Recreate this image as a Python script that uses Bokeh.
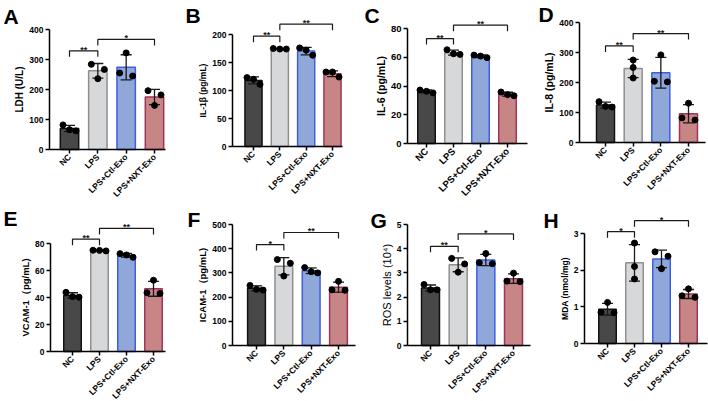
import math
import numpy as np
from bokeh.plotting import figure
from bokeh.layouts import row, column
from bokeh.models import FixedTicker, Range1d
from bokeh.core.properties import value
from bokeh.embed import file_html
from bokeh.resources import INLINE

# ---- data -------------------------------------------------------------
groups = ["NC", "LPS", "LPS+Ctl-Exo", "LPS+NXT-Exo"]

# three replicates per group
ldh = [[82, 62, 66], [284, 267, 236], [322, 245, 255], [196, 182, 147]]
il1b = [[123, 120, 111], [174, 175, 174], [176, 172, 163], [133, 133, 124]]
il6 = [[35.2, 37.2, 36.3], [65.2, 62.0, 62.4], [59.7, 61.5, 60.8], [33.2, 35.8, 34.0]]
il8 = [[136, 118, 120], [275, 250, 215], [292, 202, 204], [131, 75, 82]]
vcam1 = [[43.8, 40.2, 40.6], [74.5, 75.0, 74.9], [72.5, 69.8, 71.5], [52.8, 43.0, 43.5]]
icam1 = [[248, 229, 232], [355, 340, 287], [322, 305, 300], [265, 228, 230]]
ros = [[2.52, 2.30, 2.30], [3.60, 3.37, 3.03], [3.80, 3.42, 3.38], [2.99, 2.66, 2.64]]
mda = [[1.12, 0.84, 0.85], [2.74, 2.10, 1.76], [2.50, 2.38, 2.04], [1.49, 1.26, 1.30]]

# significance marks: (NC vs LPS, LPS vs LPS+NXT-Exo)
sig_ldh = ["**", "*"]
sig_il1b = ["**", "**"]
sig_il6 = ["**", "**"]
sig_il8 = ["**", "**"]
sig_vcam1 = ["**", "**"]
sig_icam1 = ["*", "**"]
sig_ros = ["**", "*"]
sig_mda = ["*", "*"]

ticks_ldh = [0, 100, 200, 300, 400]
ticks_il1b = [0, 50, 100, 150, 200]
ticks_il6 = [0, 20, 40, 60, 80]
ticks_il8 = [0, 100, 200, 300, 400]
ticks_vcam1 = [0, 20, 40, 60, 80]
ticks_icam1 = [0, 100, 200, 300, 400, 500]
ticks_ros = [0, 1, 2, 3, 4, 5]
ticks_mda = [0, 1, 2, 3]

# ---- styling ----------------------------------------------------------
FONT = "Liberation Sans"
FILLS = ["#484848", "#d7d8da", "#8fa7d9", "#c78585"]
EDGES = ["#111111", "#8f8f8f", "#3d5ee2", "#a1345a"]

# panel geometry in page pixels:
# column box, row box, y-axis x, x-axis end, zero line, top-tick line, first/last bar centre,
# panel letter position, bracket heights (data units), label/tick font sizes
panels = [
    dict(letter="A", ylabel="LDH (U/L)", reps=ldh, ticks=ticks_ldh, sig=sig_ldh,
         col=(0, 177), rowb=(0, 200), left=49, right=165, zero=149, toptick=29,
         c0=69, c3=154, lx=3, ly=8, br=(329, 367), lab=("10px", "bold"), tick="8.5px"),
    dict(letter="B", ylabel="IL-1β (pg/mL)", reps=il1b, ticks=ticks_il1b, sig=sig_il1b,
         col=(177, 360), rowb=(0, 200), left=232, right=342, zero=146, toptick=34,
         c0=253, c3=332, lx=185, ly=7, br=(197, 218.5), lab=("8.5px", "bold"), tick="8.5px"),
    dict(letter="C", ylabel="IL-6 (pg/mL)", reps=il6, ticks=ticks_il6, sig=sig_il6,
         col=(360, 535), rowb=(0, 200), left=407, right=527, zero=143, toptick=28,
         c0=426, c3=507, lx=364, ly=7, br=(73, 82.3), lab=("10.5px", "bold"), tick="9.5px"),
    dict(letter="D", ylabel="IL-8 (pg/mL)", reps=il8, ticks=ticks_il8, sig=sig_il8,
         col=(535, 708), rowb=(0, 200), left=579, right=705, zero=142, toptick=22,
         c0=605, c3=688, lx=538, ly=6, br=(322, 363), lab=("10.5px", "bold"), tick="8.5px"),
    dict(letter="E", ylabel="VCAM-1（pg/mL)", reps=vcam1, ticks=ticks_vcam1, sig=sig_vcam1,
         col=(0, 177), rowb=(200, 401), left=50, right=165, zero=351, toptick=243,
         c0=72, c3=153, lx=3, ly=210, br=(83.2, 91.2), lab=("9.5px", "bold"), tick="8.5px"),
    dict(letter="F", ylabel="ICAM-1（pg/mL)", reps=icam1, ticks=ticks_icam1, sig=sig_icam1,
         col=(177, 360), rowb=(200, 401), left=232, right=355, zero=345, toptick=224,
         c0=256, c3=338, lx=187, ly=211, br=(417, 467), lab=("9.5px", "bold"), tick="8.5px"),
    dict(letter="G", ylabel="ROS levels (10⁴)", reps=ros, ticks=ticks_ros, sig=sig_ros,
         col=(360, 535), rowb=(200, 401), left=407, right=530, zero=345, toptick=224,
         c0=430, c3=513, lx=370, ly=212, br=(4.10, 4.61), lab=("11px", "normal"), tick="8.5px"),
    dict(letter="H", ylabel="MDA (nmol/mg)", reps=mda, ticks=ticks_mda, sig=sig_mda,
         col=(535, 708), rowb=(200, 401), left=584, right=707, zero=343, toptick=233,
         c0=607, c3=688, lx=543, ly=212, br=(3.05, 3.35), lab=("8.5px", "bold"), tick="8.5px"),
]


def dot_offsets(vals, ppu, sp, diam=6.0, step=6.5):
    """Spread replicate dots sideways when they would overlap."""
    order = sorted(range(len(vals)), key=lambda i: -vals[i])
    clusters = []
    for i in order:
        if clusters and (vals[clusters[-1][-1]] - vals[i]) * ppu < diam:
            clusters[-1].append(i)
        else:
            clusters.append([i])
    offs = [0.0] * len(vals)
    for c in clusters:
        n = len(c)
        gap = step * (2 if n == 2 else 1)
        for k, i in enumerate(c):
            offs[i] = (k - (n - 1) / 2) * gap / sp
    return offs


def make_panel(cfg):
    cl, cr = cfg["col"]
    rt, rb = cfg["rowb"]
    ppu = (cfg["zero"] - cfg["toptick"]) / cfg["ticks"][-1]   # pixels per y unit
    sp = (cfg["c3"] - cfg["c0"]) / 3.0                          # pixels per x unit

    def xd(px):
        return 1 + (px - cfg["c0"]) / sp

    def yd(py):
        return (cfg["zero"] - py) / ppu

    # the plotting frame covers the whole cell; axes sit at fixed data locations
    p = figure(width=cr - cl, height=rb - rt, output_backend="svg", toolbar_location=None,
               x_range=Range1d(xd(cl), xd(cr)), y_range=Range1d(yd(rb), yd(rt)),
               min_border=0, min_border_left=0, min_border_right=0,
               min_border_top=0, min_border_bottom=0)
    p.outline_line_color = None
    p.xgrid.grid_line_color = None
    p.ygrid.grid_line_color = None
    p.background_fill_color = "white"
    p.border_fill_color = "white"

    reps = cfg["reps"]
    xs = [1, 2, 3, 4]
    means = [float(np.mean(r)) for r in reps]
    sds = [float(np.std(r, ddof=1)) for r in reps]

    p.vbar(x=xs, top=means, width=0.65, bottom=0, fill_color=FILLS, line_color=EDGES,
           line_width=1.5)

    # error bars (mean ± SD)
    cap = 5.5 / sp
    p.segment(x0=xs, y0=[m - s for m, s in zip(means, sds)],
              x1=xs, y1=[m + s for m, s in zip(means, sds)], line_color="#1a1a1a", line_width=1.3)
    for sign in (-1, 1):
        yy = [m + sign * s for m, s in zip(means, sds)]
        p.segment(x0=[x - cap for x in xs], y0=yy, x1=[x + cap for x in xs], y1=yy,
                  line_color="#1a1a1a", line_width=1.3)

    # replicate dots
    dx, dy = [], []
    for x, r in zip(xs, reps):
        offs = dot_offsets(r, ppu, sp)
        dx += [x + o for o in offs]
        dy += list(r)
    p.scatter(dx, dy, size=6, fill_color="black", line_color="black")

    # significance brackets
    drop = 6.0 / ppu
    pairs = [(1, 2), (2, 4)]
    for (a, b), h, mark in zip(pairs, cfg["br"], cfg["sig"]):
        p.line([a, a, b, b], [h - drop, h, h, h - drop], line_color="#1a1a1a", line_width=1.2)
        p.text(x=[(a + b) / 2], y=[h + 1.0 / ppu], text=[mark], text_align="center",
               text_baseline="alphabetic", text_font=value(FONT), text_font_style="bold",
               text_font_size="9px", text_color="#1a1a1a")

    # panel letter
    p.text(x=[xd(cfg["lx"])], y=[yd(cfg["ly"] - 4)], text=[cfg["letter"]],
           text_font=value(FONT), text_font_size="21px", text_font_style="bold",
           text_color="black", text_align="left", text_baseline="top")

    # axes
    p.yaxis.fixed_location = xd(cfg["left"])
    p.yaxis.ticker = FixedTicker(ticks=cfg["ticks"])
    p.yaxis.bounds = (0, cfg["ticks"][-1])
    p.yaxis.axis_label = cfg["ylabel"]
    p.yaxis.axis_label_text_font = FONT
    p.yaxis.axis_label_text_font_size = cfg["lab"][0]
    p.yaxis.axis_label_text_font_style = cfg["lab"][1]
    p.yaxis.axis_label_text_color = "black"
    p.yaxis.axis_label_standoff = 1

    p.xaxis.fixed_location = 0
    p.xaxis.bounds = (xd(cfg["left"]), xd(cfg["right"]))
    p.xaxis.ticker = FixedTicker(ticks=xs)
    p.xaxis.major_label_overrides = {x: g for x, g in zip(xs, groups)}
    p.xaxis.major_label_orientation = math.pi / 4

    for ax in (p.xaxis, p.yaxis):
        ax.axis_line_width = 1.5
        ax.axis_line_color = "black"
        ax.major_tick_line_width = 1.5
        ax.major_tick_line_color = "black"
        ax.major_tick_out = 4
        ax.major_tick_in = 0
        ax.minor_tick_line_color = None
        ax.major_label_standoff = 2
        ax.major_label_text_font = FONT
        ax.major_label_text_font_style = "bold"
        ax.major_label_text_font_size = cfg["tick"]
        ax.major_label_text_color = "black"
    return p


figs = [make_panel(c) for c in panels]
layout = column(row(*figs[:4], spacing=0), row(*figs[4:], spacing=0), spacing=0)

with open("out.html", "w") as f:
    f.write(file_html(layout, INLINE))
